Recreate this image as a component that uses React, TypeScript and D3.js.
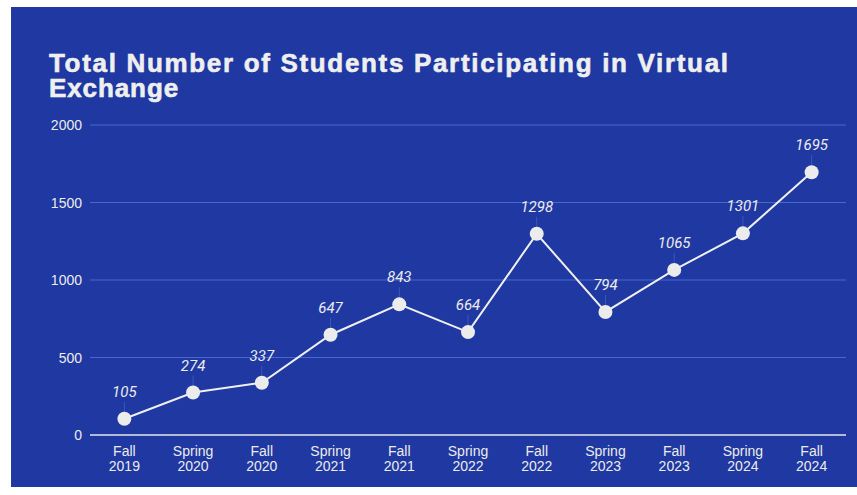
import React, { useEffect, useRef } from 'react';
import * as d3 from 'd3';

const terms = ['Fall', 'Spring', 'Fall', 'Spring', 'Fall', 'Spring', 'Fall', 'Spring', 'Fall', 'Spring', 'Fall'];
const years = ['2019', '2020', '2020', '2021', '2021', '2022', '2022', '2023', '2023', '2024', '2024'];
const students = [105, 274, 337, 647, 843, 664, 1298, 794, 1065, 1301, 1695];
const yTicks = [0, 500, 1000, 1500, 2000];

export default function App() {
  const svgRef = useRef<SVGSVGElement>(null);

  useEffect(() => {
    if (!svgRef.current) return;
    const root = d3.select(svgRef.current);
    root.selectAll('*').remove();

    const W = 857, H = 495;
    const margin = { top: 125, right: 11, bottom: 60, left: 90 },
      width = W - margin.left - margin.right,
      height = 435 - margin.top;

    // background panel
    root.append('rect').attr('width', W).attr('height', H).attr('fill', '#ffffff');
    root.append('rect')
      .attr('x', 11).attr('y', 7)
      .attr('width', W - 11).attr('height', 480)
      .attr('fill', '#1f38a2');

    // title (heavy bold, two tight lines)
    const title = root.append('text')
      .style('font-family', '"Liberation Sans", Arial, sans-serif')
      .style('font-weight', 'bold')
      .style('font-size', '26px')
      .attr('fill', '#efefef')
      .attr('stroke', '#efefef')
      .attr('stroke-width', 0.6);
    title.append('tspan').attr('x', 49).attr('y', 72)
      .attr('textLength', 679).attr('lengthAdjust', 'spacing')
      .text('Total Number of Students Participating in Virtual');
    title.append('tspan').attr('x', 49).attr('y', 97)
      .style('letter-spacing', '0.9px')
      .text('Exchange');

    const idx = students.map((_, i) => String(i));
    const x = d3.scaleBand().domain(idx).range([0, width]);
    const y = d3.scaleLinear().domain([0, 2000]).range([height, 0]);

    const g = root.append('g').attr('transform', `translate(${margin.left},${margin.top})`);

    // grid
    g.selectAll('.grid')
      .data(yTicks.filter((t) => t > 0))
      .enter()
      .append('line')
      .attr('x1', 0).attr('x2', width)
      .attr('y1', (d) => y(d)).attr('y2', (d) => y(d))
      .attr('stroke', '#4668cc')
      .attr('stroke-width', 1);

    // y tick labels
    g.selectAll('.ylab')
      .data(yTicks)
      .enter()
      .append('text')
      .attr('x', -8)
      .attr('y', (d) => y(d) + 5)
      .attr('text-anchor', 'end')
      .style('font-family', '"Liberation Sans", Arial, sans-serif')
      .style('font-size', '14px')
      .attr('fill', '#ececec')
      .text((d) => d);

    // baseline
    g.append('line')
      .attr('x1', 0).attr('x2', width)
      .attr('y1', y(0)).attr('y2', y(0))
      .attr('stroke', '#e6e6e6')
      .attr('stroke-width', 1.5);

    const cx = (i: number) => (x(String(i)) as number) + x.bandwidth() / 2;

    // x labels
    const xl = g.selectAll('.xlab')
      .data(students)
      .enter()
      .append('text')
      .attr('text-anchor', 'middle')
      .style('font-family', '"Liberation Sans", Arial, sans-serif')
      .style('font-size', '14px')
      .attr('fill', '#ececec');
    xl.append('tspan').attr('x', (_, i) => cx(i)).attr('y', height + 21).text((_, i) => terms[i]);
    xl.append('tspan').attr('x', (_, i) => cx(i)).attr('y', height + 36).text((_, i) => years[i]);

    // label stems
    g.selectAll('.stem')
      .data(students)
      .enter()
      .append('line')
      .attr('x1', (_, i) => cx(i)).attr('x2', (_, i) => cx(i))
      .attr('y1', (d) => y(d) - 17).attr('y2', (d) => y(d))
      .attr('stroke', '#3a58bd')
      .attr('stroke-width', 1);

    // line
    const line = d3.line<number>()
      .x((_, i) => cx(i))
      .y((d) => y(d));
    g.append('path')
      .datum(students)
      .attr('d', line)
      .attr('fill', 'none')
      .attr('stroke', '#f0f0f0')
      .attr('stroke-width', 2);

    // points
    g.selectAll('.pt')
      .data(students)
      .enter()
      .append('circle')
      .attr('cx', (_, i) => cx(i))
      .attr('cy', (d) => y(d))
      .attr('r', 7)
      .attr('fill', '#ececec');

    // value labels
    g.selectAll('.val')
      .data(students)
      .enter()
      .append('text')
      .attr('x', (_, i) => cx(i))
      .attr('y', (d) => y(d) - 22)
      .attr('text-anchor', 'middle')
      .style('font-family', 'Roboto, "Liberation Sans", sans-serif')
      .style('font-size', '15px')
      .style('font-style', 'italic')
      .attr('fill', '#ececec')
      .text((d) => d);
  }, []);

  return (
    <div style={{ position: 'absolute', left: 0, top: 0 }}>
      <svg ref={svgRef} width={857} height={495} style={{ display: 'block' }} />
    </div>
  );
}
